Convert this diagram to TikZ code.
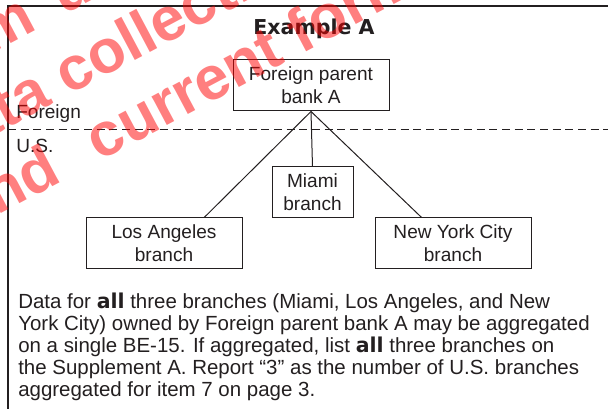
\documentclass[tikz,border=0pt]{standalone}
\usepackage{fontspec}
\setmainfont{Liberation Sans}
\newfontfamily\heavy{DejaVu Sans Bold}
\newfontfamily\wmfont{Liberation Sans Bold}
\usetikzlibrary{calc}
\definecolor{ink}{HTML}{231F20}
\begin{document}
\begin{tikzpicture}[x=0.75pt,y=-0.75pt,
  every node/.style={text=ink},
  bodyfont/.style={font=\fontsize{14.3}{16.5}\selectfont},
  parafont/.style={font=\fontsize{15.35}{16.5}\selectfont},
  boxnode/.style={draw=ink, line width=0.75pt, inner sep=0pt, align=center,
    minimum width=117pt, minimum height=38.25pt, font=\fontsize{14.3}{17.2}\selectfont},
  link/.style={draw=ink, line width=0.75pt},
  frame/.style={draw=ink, line width=1.7pt},
  wm/.style={rotate=28, anchor=base west, inner sep=0pt, text=red, text opacity=0.5,
    font=\wmfont\fontsize{46}{46}\selectfont}]
\useasboundingbox (0,0) rectangle (608,409);
% frame
\coordinate (tl) at (8,6);
\coordinate (tr) at (608,6);
\coordinate (bl) at (8,409);
\draw[frame] (bl) -- (tl) -- (tr);
% divider
\coordinate (dl) at (8,129.5);
\coordinate (dr) at (608,129.5);
\draw[draw=ink, line width=0.75pt, dash pattern=on 6pt off 3.5pt] (dl) -- (dr);
% labels
\node[bodyfont, anchor=base west, inner sep=0pt] (foreign) at (16,119) {Foreign};
\node[bodyfont, anchor=base west, inner sep=0pt] (us) at (16,153) {U.S.};
% title
\node[anchor=base, inner sep=0pt, font=\heavy\fontsize{15.4}{18}\selectfont] (title) at (314,35) {Example A};
% boxes
\node[boxnode] (parent) at (311,85.5) {Foreign parent\\bank A};
\node[boxnode, minimum width=60.75pt] (miami) at (312.5,192.5) {Miami\\branch};
\node[boxnode] (la) at (164,243.5) {Los Angeles\\branch};
\node[boxnode] (nyc) at (453,243.5) {New York City\\branch};
% connectors
\coordinate (apex) at ($(parent.south west)!0.5!(parent.south east)$);
\coordinate (laTop) at ($(la.north west)!0.756!(la.north east)$);
\coordinate (nycTop) at ($(nyc.north west)!0.30!(nyc.north east)$);
\draw[link] (apex) -- (laTop);
\draw[link] (apex) -- (miami.north);
\draw[link] (apex) -- (nycTop);
% paragraph
\node[parafont, anchor=north west, inner sep=0pt, align=left] (para) at (18,292.5) {Data for {\heavy all} three branches (Miami, Los Angeles, and New\\
York City) owned by Foreign parent bank A may be aggregated\\
on a single BE-15. If aggregated, list {\heavy all} three branches on\\
the Supplement A. Report “3” as the number of U.S. branches\\
aggregated for item 7 on page 3.};
% watermark
\begin{scope}
\clip (0,0) rectangle (608,409);
\node[wm] (wm1) at (-82,93) {form\hspace{21pt}under};
\node[wm] (wm2) at (-58,163) {data collection};
\node[wm] (wm3) at (-33,232) {and\hspace{31pt}current form};
\end{scope}
\end{tikzpicture}
\end{document}
